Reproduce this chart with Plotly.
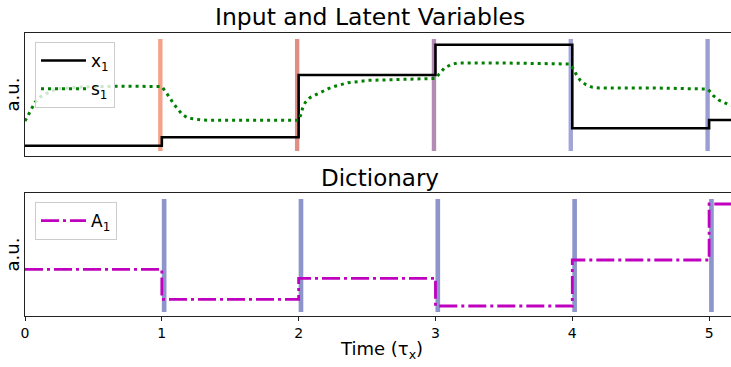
import plotly.graph_objects as go

# ---- data (a.u.) ----
T_EDGES = [0, 1, 2, 3, 4, 5, 5.16]
X1_LEVELS = [10.3, 18.7, 81.0, 111.3, 27.7, 36.0]
A1_LEVELS = [46.7, 16.7, 37.7, 10.0, 56.0, 112.0]

S1_T = [0.0, 0.009, 0.029, 0.051, 0.073, 0.107, 0.146, 0.19, 0.234, 0.29, 0.35, 0.5, 0.7, 1.0,
        1.03, 1.06, 1.083, 1.115, 1.146, 1.188, 1.24, 1.29, 1.34, 1.6, 2.0,
        2.015, 2.029, 2.049, 2.082, 2.126, 2.17, 2.217, 2.265, 2.312, 2.36, 2.41, 2.46, 2.51,
        2.61, 2.82, 3.0,
        3.036, 3.068, 3.114, 3.158, 3.5, 3.98,
        4.007, 4.03, 4.06, 4.1, 4.148, 4.197, 4.6, 4.99,
        5.031, 5.071, 5.115, 5.16]
S1_V = [35.0, 37.7, 42.3, 48.0, 53.7, 58.7, 62.0, 65.0, 67.0, 68.0, 68.5, 69.3, 69.8, 69.5,
        64.0, 58.0, 52.7, 47.3, 42.0, 38.0, 36.7, 36.0, 35.7, 35.7, 35.7,
        41.0, 47.7, 53.7, 58.3, 61.3, 64.3, 67.3, 69.7, 71.7, 73.3, 74.0, 75.0, 75.7,
        76.0, 76.7, 77.6,
        83.3, 88.3, 91.3, 93.0, 93.0, 92.0,
        87.3, 81.3, 75.3, 71.3, 68.7, 68.0, 68.0, 67.0,
        60.3, 56.0, 53.0, 50.5]

SWITCH_T = [1, 2, 3, 4, 5]
TOP_BAR_COLORS = ["#f4a289", "#df8f83", "#b38bb3", "#a3a4d7", "#9a9ed5"]
BOT_BAR_COLOR = "#8e94cc"

W, H = 731, 367
FONT = "DejaVu Sans"

# ---- layout geometry (pixels) ----
x_left = 25
top_y0, top_y1 = 33, 156
bot_y0, bot_y1 = 193, 316


def ydom(p0, p1):
    return [(H - p1) / H, (H - p0) / H]


fig = go.Figure()

fig.add_trace(go.Scatter(
    x=T_EDGES, y=X1_LEVELS + [X1_LEVELS[-1]], mode="lines", line_shape="hv",
    line=dict(color="black", width=2.6), name="x<sub>1</sub>",
    xaxis="x", yaxis="y", legend="legend", legendgroup="a"))
fig.add_trace(go.Scatter(
    x=S1_T, y=S1_V, mode="lines",
    line=dict(color="#008000", width=3, dash="3px,4px"), name="s<sub>1</sub>",
    xaxis="x", yaxis="y", legend="legend", legendgroup="b"))
fig.add_trace(go.Scatter(
    x=T_EDGES, y=A1_LEVELS + [A1_LEVELS[-1]], mode="lines", line_shape="hv",
    line=dict(color="#bf00bf", width=2.8, dash="18px,4px,3px,4px"), name="A<sub>1</sub>",
    xaxis="x2", yaxis="y2", legend="legend2"))

TOP_W = 0.032
TOP_OFF = -0.011
BOT_W = 0.034
BOT_OFF = 0.017
shapes = []
for t, c in zip(SWITCH_T, TOP_BAR_COLORS):
    shapes.append(dict(type="rect", xref="x", yref="y", x0=t + TOP_OFF - TOP_W / 2,
                       x1=t + TOP_OFF + TOP_W / 2, y0=5, y1=117, fillcolor=c,
                       line=dict(width=0), layer="below"))
for t in SWITCH_T:
    shapes.append(dict(type="rect", xref="x2", yref="y2", x0=t + BOT_OFF - BOT_W / 2,
                       x1=t + BOT_OFF + BOT_W / 2, y0=4, y1=117, fillcolor=BOT_BAR_COLOR,
                       line=dict(width=0), layer="below"))

xrange = [0, 5.16]
axline = dict(showline=True, linecolor="#222", linewidth=1, showgrid=False, zeroline=False,
              automargin=False)

fig.update_layout(
    width=W, height=H, margin=dict(l=0, r=0, t=0, b=0, autoexpand=False),
    paper_bgcolor="white", plot_bgcolor="white",
    font=dict(family=FONT, color="black"),
    shapes=shapes,
    xaxis=dict(domain=[x_left / W, 1], range=xrange, mirror=True, showticklabels=False,
               ticks="", **axline),
    yaxis=dict(domain=ydom(top_y0, top_y1), range=[0, 123], showticklabels=False, ticks="",
               **axline),
    xaxis2=dict(domain=[x_left / W, 1], range=xrange, mirror=True, anchor="y2",
                tickvals=[0, 1, 2, 3, 4, 5], ticks="outside", ticklen=4, tickcolor="#222",
                tickfont=dict(size=14, family=FONT), **axline),
    yaxis2=dict(domain=ydom(bot_y0, bot_y1), range=[0, 123], anchor="x2",
                showticklabels=False, ticks="", **axline),
    legend=dict(x=35 / W, y=1 - 42 / H, xanchor="left", yanchor="top",
                bgcolor="rgba(255,255,255,0.8)", bordercolor="#cccccc", borderwidth=1,
                font=dict(size=17, family=FONT), tracegroupgap=3, traceorder="grouped",
                itemwidth=45),
    legend2=dict(x=35 / W, y=1 - 202 / H, xanchor="left", yanchor="top",
                 bgcolor="rgba(255,255,255,0.8)", bordercolor="#cccccc", borderwidth=1,
                 font=dict(size=17, family=FONT), itemwidth=45),
    showlegend=True,
)

ann = [
    dict(text="Input and Latent Variables", x=370 / W, y=1 - 17 / H,
         font=dict(size=23.5)),
    dict(text="Dictionary", x=380 / W, y=1 - 178 / H, font=dict(size=23)),
    dict(text="a.u.", x=12 / W, y=1 - 94.5 / H, textangle=-90, font=dict(size=18)),
    dict(text="a.u.", x=12 / W, y=1 - 254.5 / H, textangle=-90, font=dict(size=18)),
    dict(text="Time (τ<sub>x</sub>)", x=381 / W, y=1 - 350 / H,
         font=dict(size=18)),
]
for a in ann:
    a.update(xref="paper", yref="paper", showarrow=False, xanchor="center", yanchor="middle")
    a["font"]["family"] = FONT
fig.update_layout(annotations=ann)

fig.write_html("out.html")
